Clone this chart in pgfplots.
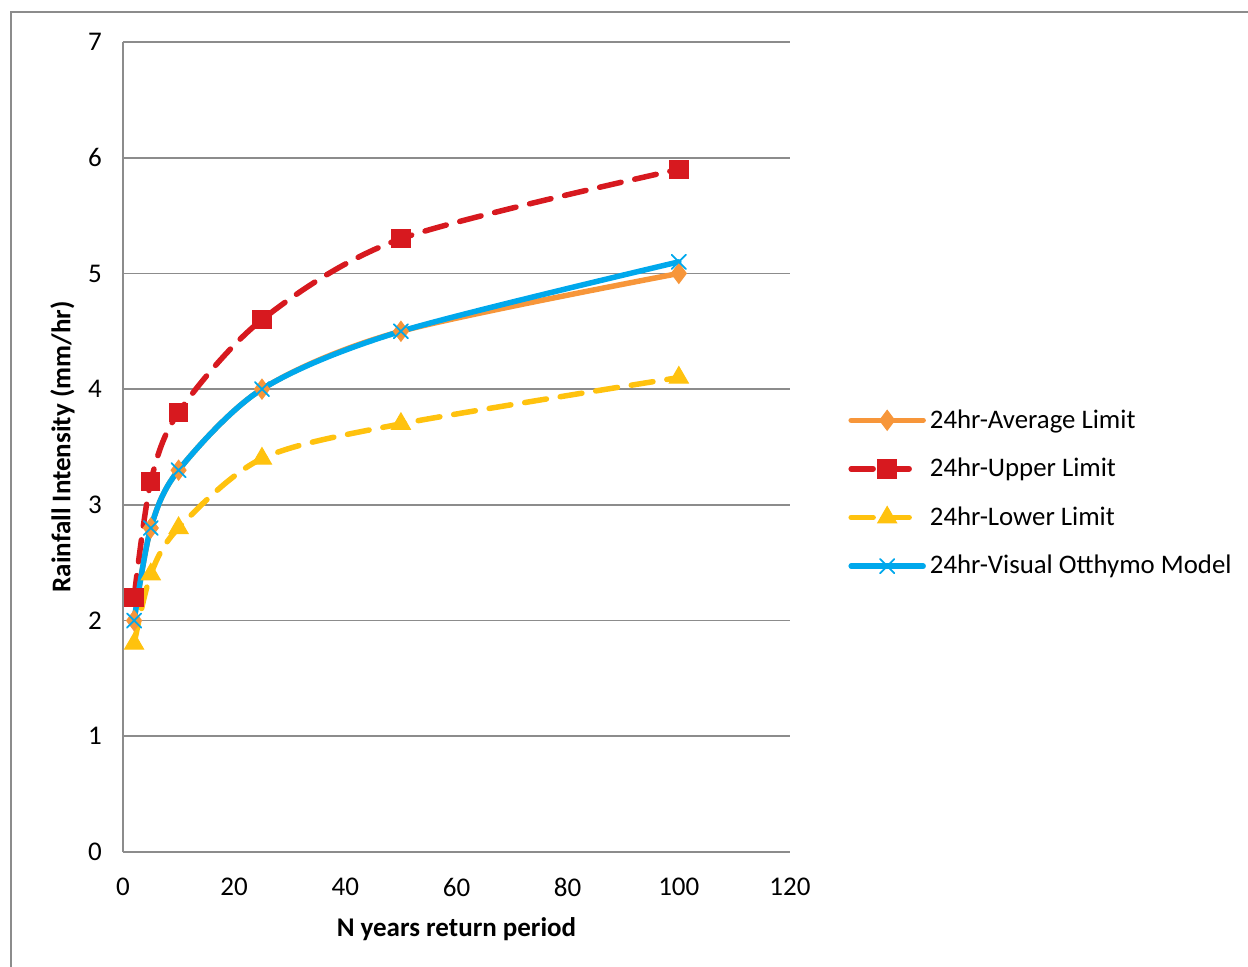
\documentclass[border=0pt]{standalone}
\usepackage{pgfplots}
\pgfplotsset{compat=1.18}
\usepackage{fontspec}
\setmainfont{Carlito}
\usetikzlibrary{plotmarks}
\definecolor{cavg}{HTML}{F7963A}
\definecolor{cup}{HTML}{D7191F}
\definecolor{clow}{HTML}{FFC20E}
\definecolor{cvis}{HTML}{00A8EC}
\definecolor{gridg}{HTML}{8C8C8C}
\begin{document}
\begin{tikzpicture}[x=1pt,y=1pt]
\useasboundingbox (-61.5,-57) rectangle (562.5,426);
\draw[gridg, line width=0.8pt] (-56,-60) -- (-56,420) -- (570,420);
\begin{axis}[
  at={(0,0)}, anchor=origin,
  scale only axis, width=333.5pt, height=405pt,
  xmin=0, xmax=120, ymin=0, ymax=7,
  xtick={0,20,...,120}, ytick={0,1,...,7},
  axis lines*=left,
  axis line style={gridg, line width=0.8pt, -},
  ymajorgrids, grid style={gridg, line width=0.8pt},
  major tick length=0pt,
  tick label style={font=\fontsize{13.5}{15}\selectfont},
  /pgf/number format/assume math mode=true,
  xticklabel style={yshift=-9.5pt},
  yticklabel style={xshift=-7pt},
  xlabel={\textbf{N years return period}},
  ylabel={\textbf{Rainfall Intensity (mm/hr)}},
  label style={font=\fontsize{13.5}{15}\selectfont},
  xlabel style={yshift=-3.5pt},
  ylabel style={yshift=0pt},
  clip=false,
  legend style={at={(1.078,0.443)}, anchor=west, draw=none, fill=none,
    font=\fontsize{13.4}{15}\selectfont, row sep=9.5pt,
    legend cell align=left},
  legend image code/.code={%
    \draw[#1, mark repeat=2, mark phase=2] plot coordinates {(0pt,0pt) (18pt,0pt) (36pt,0pt)};},
]
\addplot[cavg, line width=2.75pt, line cap=round, smooth, mark=diamond*, mark size=5pt,
  mark options={solid, line width=0.5pt}]
  coordinates {(2,2.0) (5,2.8) (10,3.3) (25,4.0) (50,4.5) (100,5.0)};
\addlegendentry{24hr-Average Limit}
\addplot[cup, line width=2.75pt, line cap=round, dash pattern=on 11pt off 7pt, smooth, mark=square*, mark size=4.6pt,
  mark options={solid, line width=0.5pt}]
  coordinates {(2,2.2) (5,3.2) (10,3.8) (25,4.6) (50,5.3) (100,5.9)};
\addlegendentry{24hr-Upper Limit}
\addplot[clow, line width=2.75pt, line cap=round, dash pattern=on 11pt off 7pt, smooth, mark=triangle*, mark size=5.5pt,
  mark options={solid, line width=0.5pt}]
  coordinates {(2,1.8) (5,2.4) (10,2.8) (25,3.4) (50,3.7) (100,4.1)};
\addlegendentry{24hr-Lower Limit}
\addplot[cvis, line width=2.75pt, line cap=round, smooth, mark=x, mark size=5pt,
  mark options={solid, line width=0.9pt}]
  coordinates {(2,2.0) (5,2.8) (10,3.3) (25,4.0) (50,4.5) (100,5.1)};
\addlegendentry{24hr-Visual Otthymo Model}
\end{axis}
\end{tikzpicture}
\end{document}
